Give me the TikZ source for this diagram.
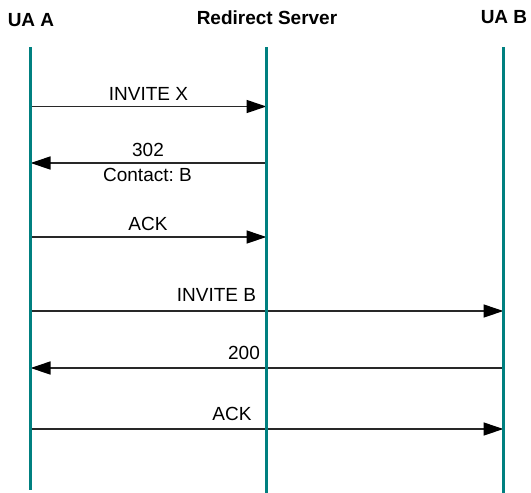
\documentclass[tikz,border=0pt]{standalone}
\usepackage{fontspec}
\setmainfont{Liberation Sans}
\usetikzlibrary{arrows.meta}
\definecolor{lifeteal}{RGB}{0,128,128}
\definecolor{msggray}{RGB}{40,40,40}
\frenchspacing

\begin{document}
\begin{tikzpicture}[x=1pt,y=-1pt,every path/.style={>={Triangle[length=20pt,width=13pt,color=black]}},
  life/.style={draw=lifeteal,line width=3pt},
  msg/.style={draw=msggray,line width=1.3pt},
  lbl/.style={anchor=base,inner sep=0pt,font=\fontsize{19}{22}\selectfont},
  head/.style={anchor=base,inner sep=0pt,font=\fontsize{19}{22}\selectfont\bfseries}]
\useasboundingbox (0,0) rectangle (531,493);
% headers
\node[head]      (uaa)   at (31,26)    {UA A};
\node[head]      (redir) at (267,24)   {Redirect Server};
\node[head]      (uab)   at (504,23.3) {UA B};
% lifelines
\coordinate (a0) at (30.5,47);  \coordinate (a9) at (30.5,490);
\coordinate (s0) at (266.5,47); \coordinate (s9) at (266.5,493);
\coordinate (b0) at (503.5,47); \coordinate (b9) at (503.5,493);
% message ends
\coordinate (a1) at (30.5,106.5); \coordinate (s1) at (266.5,106.5);
\coordinate (a2) at (30.5,163);   \coordinate (s2) at (266.5,163);
\coordinate (a3) at (30.5,237);   \coordinate (s3) at (266.5,237);
\coordinate (a4) at (30.5,311);   \coordinate (b4) at (503.5,311);
\coordinate (a5) at (30.5,368);   \coordinate (b5) at (503.5,368);
\coordinate (a6) at (30.5,429);   \coordinate (b6) at (503.5,429);
% labels
\node[lbl]       (ninvx)    at (148.5,100.7) {INVITE X};
\node[lbl]       (n302)     at (148,156.7)   {302};
\node[lbl]       (ncontact) at (147.5,181.7) {Contact: B};
\node[lbl]       (nack1)    at (148,230.7)   {ACK};
\node[lbl]       (ninvb)    at (216.5,301.7) {INVITE B};
\node[lbl]       (n200)     at (244,359.3)   {200};
\node[lbl]       (nack2)    at (232,420.7)   {ACK};
% messages
\draw[msg,->]         (a1) -- (s1);
\draw[msg,->]         (s2) -- (a2);
\draw[msg,->]         (a3) -- (s3);
\draw[msg,->]         (a4) -- (b4);
\draw[msg,->]         (b5) -- (a5);
\draw[msg,->]         (a6) -- (b6);
\draw[life]           (a0) -- (a9);
\draw[life]           (s0) -- (s9);
\draw[life]           (b0) -- (b9);
\end{tikzpicture}
\end{document}
